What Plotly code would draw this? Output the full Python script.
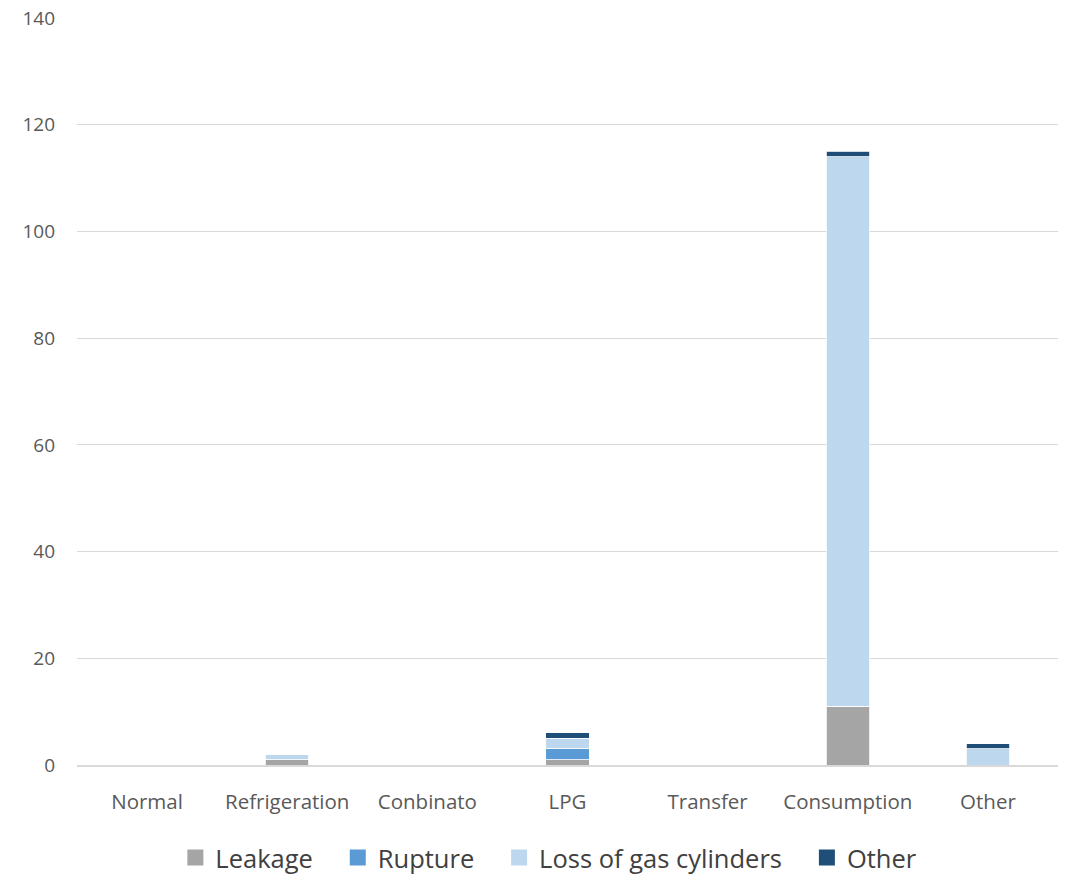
import plotly.graph_objects as go

categories = ["Normal", "Refrigeration", "Conbinato", "LPG", "Transfer", "Consumption", "Other"]
leakage = [0, 1, 0, 1, 0, 11, 0]
rupture = [0, 0, 0, 2, 0, 0, 0]
loss_of_cylinders = [0, 1, 0, 2, 0, 103, 3]
other = [0, 0, 0, 1, 0, 1, 1]

series = [
    ("Leakage", leakage, "#a5a5a5"),
    ("Rupture", rupture, "#5b9bd5"),
    ("Loss of gas cylinders", loss_of_cylinders, "#bdd7ee"),
    ("Other", other, "#1f4e79"),
]

PAD = "\u00a0" * 3  # extra room after each legend entry

fig = go.Figure()
for name, vals, color in series:
    fig.add_trace(go.Bar(
        x=categories, y=vals, name=name, showlegend=False,
        marker=dict(color=color, line=dict(color="white", width=0.8)),
    ))
# legend entries with larger square swatches
for i, (name, vals, color) in enumerate(series):
    label = name if i == len(series) - 1 else name + PAD
    fig.add_trace(go.Scatter(
        x=[None], y=[None], mode="markers", name=label,
        marker=dict(symbol="square", size=17, color=color),
    ))

fig.update_layout(
    barmode="stack",
    bargap=0.69,
    width=1066, height=878,
    margin=dict(l=77, r=8, t=18, b=113),
    paper_bgcolor="white",
    plot_bgcolor="white",
    font=dict(family="Open Sans, Noto Sans, sans-serif", color="#595959", size=19),
    xaxis=dict(showgrid=False, showline=True, linecolor="#d9d9d9", linewidth=1.5,
               tickfont=dict(size=20.5), ticks="", ticklabelstandoff=18,
               automargin=False),
    yaxis=dict(range=[0, 140], dtick=20, showgrid=True, gridcolor="#d9d9d9",
               gridwidth=1.3, zeroline=False, tickfont=dict(size=19),
               ticklabelstandoff=21, automargin=False),
    legend=dict(orientation="h", x=0.481, xanchor="center",
                yref="container", y=(878 - 858) / 878, yanchor="middle",
                font=dict(size=25.5, color="#404040"), traceorder="normal",
                itemwidth=30, itemclick=False),
)

fig.write_html("out.html")
